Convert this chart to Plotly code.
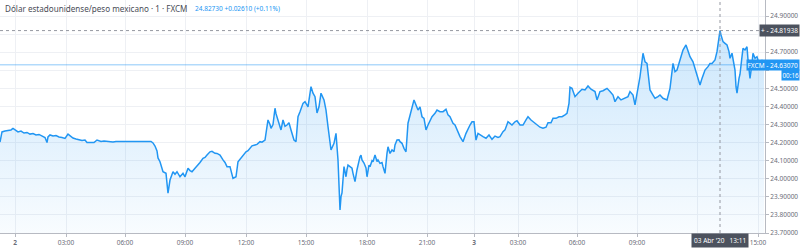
import plotly.graph_objects as go

# ---- data (bar index along the time scale, price) ----
bars = [
    0, 1, 2, 5, 8, 11, 13, 15, 18, 21,
    24, 27, 30, 33, 36, 39, 42, 45, 47, 48,
    50, 53, 56, 59, 62, 65, 68, 70, 73, 76,
    79, 82, 85, 87, 90, 94, 97, 99, 101, 104,
    107, 110, 113, 116, 120, 124, 128, 132, 136, 140,
    144, 148, 151, 153, 155, 157, 158, 160, 163, 166,
    168, 170, 173, 175, 177, 180, 183, 185, 188, 190,
    192, 195, 198, 200, 203, 205, 207, 210, 212, 215,
    217, 220, 223, 225, 227, 230, 233, 236, 238, 242,
    244, 246, 248, 250, 252, 255, 257, 260, 262, 265,
    268, 270, 271, 273, 275, 276, 278, 281, 283, 285,
    287, 289, 291, 294, 296, 298, 300, 303, 305, 308,
    311, 313, 315, 317, 319, 321, 324, 326, 328, 331,
    334, 336, 338, 339, 340, 341, 342, 344, 345, 346,
    347, 348, 350, 352, 353, 355, 357, 358, 360, 361,
    362, 364, 366, 367, 369, 370, 372, 373, 375, 377,
    378, 380, 382, 383, 385, 387, 388, 390, 392, 394,
    395, 397, 399, 400, 402, 404, 406, 408, 411, 413,
    414, 416, 418, 420, 422, 424, 426, 428, 430, 432,
    435, 437, 440, 443, 446, 448, 450, 453, 455, 457,
    460, 463, 466, 470, 472, 474, 476, 478, 480, 483,
    486, 489, 492, 495, 498, 500, 503, 505, 508, 510,
    512, 515, 517, 520, 523, 526, 528, 531, 535, 538,
    540, 543, 546, 548, 551, 553, 556, 559, 562, 565,
    567, 569, 570, 572, 575, 578, 582, 585, 588, 591,
    595, 597, 600, 603, 607, 610, 613, 615, 618, 621,
    625, 628, 630, 633, 635, 637, 640, 643, 645, 647,
    649, 650, 653, 655, 658, 660, 663, 667, 670, 672,
    673, 675, 677, 680, 683, 686, 688, 690, 693, 695,
    698, 700, 702, 705, 708, 710, 712, 715, 717, 719,
    720, 721, 723, 725, 727, 729, 730, 732, 734, 735,
    736, 737, 739, 740, 742, 743, 745, 747, 748, 750,
    752, 753, 755, 757, 759, 760, 762, 764,
]

prices = [
    24.203, 24.242, 24.259, 24.264, 24.267, 24.270, 24.278, 24.270, 24.259, 24.264,
    24.253, 24.256, 24.247, 24.250, 24.242, 24.245, 24.236, 24.228, 24.200, 24.231,
    24.242, 24.236, 24.239, 24.231, 24.228, 24.223, 24.247, 24.236, 24.225, 24.220,
    24.217, 24.212, 24.214, 24.200, 24.200, 24.200, 24.214, 24.212, 24.206, 24.209,
    24.206, 24.203, 24.203, 24.206, 24.206, 24.209, 24.206, 24.206, 24.209, 24.206,
    24.209, 24.209, 24.206, 24.198, 24.181, 24.154, 24.115, 24.094, 24.039, 24.030,
    23.920, 23.993, 24.039, 24.025, 24.039, 24.011, 24.030, 24.011, 24.058, 24.045,
    24.039, 24.058, 24.076, 24.090, 24.113, 24.118, 24.131, 24.149, 24.152, 24.141,
    24.140, 24.131, 24.104, 24.090, 24.067, 24.067, 24.002, 24.011, 24.094, 24.122,
    24.140, 24.149, 24.155, 24.168, 24.182, 24.187, 24.190, 24.205, 24.202, 24.214,
    24.325, 24.300, 24.279, 24.300, 24.390, 24.360, 24.325, 24.270, 24.325, 24.290,
    24.297, 24.310, 24.270, 24.214, 24.205, 24.343, 24.371, 24.417, 24.426, 24.398,
    24.509, 24.473, 24.454, 24.364, 24.398, 24.473, 24.436, 24.380, 24.288, 24.159,
    24.196, 24.251, 24.104, 23.922, 23.827, 23.901, 23.922, 24.067, 24.040, 24.011,
    24.050, 24.076, 24.067, 24.058, 24.030, 23.984, 24.050, 24.076, 24.122, 24.130,
    24.104, 24.087, 24.060, 24.011, 24.075, 24.067, 24.100, 24.094, 24.131, 24.095,
    24.104, 24.085, 24.090, 24.067, 24.030, 24.140, 24.177, 24.140, 24.159, 24.150,
    24.187, 24.214, 24.215, 24.205, 24.196, 24.168, 24.149, 24.307, 24.371, 24.417,
    24.436, 24.408, 24.380, 24.398, 24.343, 24.334, 24.270, 24.297, 24.325, 24.343,
    24.362, 24.380, 24.371, 24.371, 24.384, 24.353, 24.343, 24.307, 24.297, 24.270,
    24.233, 24.205, 24.251, 24.297, 24.315, 24.315, 24.214, 24.251, 24.242, 24.233,
    24.224, 24.242, 24.218, 24.236, 24.229, 24.233, 24.260, 24.270, 24.315, 24.307,
    24.297, 24.315, 24.321, 24.297, 24.297, 24.325, 24.343, 24.325, 24.307, 24.292,
    24.285, 24.279, 24.285, 24.310, 24.310, 24.334, 24.334, 24.343, 24.343, 24.353,
    24.362, 24.417, 24.506, 24.500, 24.454, 24.473, 24.495, 24.491, 24.513, 24.495,
    24.482, 24.436, 24.482, 24.487, 24.500, 24.482, 24.463, 24.426, 24.454, 24.436,
    24.445, 24.454, 24.482, 24.463, 24.408, 24.463, 24.564, 24.694, 24.647, 24.638,
    24.546, 24.491, 24.463, 24.445, 24.454, 24.463, 24.445, 24.436, 24.500, 24.601,
    24.638, 24.592, 24.601, 24.657, 24.712, 24.740, 24.703, 24.675, 24.647, 24.611,
    24.564, 24.518, 24.555, 24.601, 24.620, 24.638, 24.638, 24.657, 24.703, 24.777,
    24.81938, 24.795, 24.758, 24.749, 24.740, 24.703, 24.666, 24.694, 24.629, 24.601,
    24.509, 24.473, 24.555, 24.578, 24.675, 24.721, 24.712, 24.730, 24.657, 24.555,
    24.638, 24.694, 24.666, 24.675, 24.638, 24.620, 24.657, 24.6307,
]

tick_bars = [15, 66, 125, 185, 246, 306, 367, 427, 474, 518, 577, 637, 697, 758]
tick_labels = ["<b>2</b>", "03:00", "06:00", "09:00", "12:00", "15:00", "18:00", "21:00",
               "<b>3</b>", "03:00", "06:00", "09:00", "", "15:00"]
price_ticks = [23.7, 23.8, 23.9, 24.0, 24.1, 24.2, 24.3, 24.4, 24.5, 24.6, 24.7, 24.8, 24.9]
price_tick_labels = ["23.70000", "23.80000", "23.90000", "24.00000", "24.10000", "24.20000",
                     "24.30000", "24.40000", "24.50000", "", "24.70000", "", "24.90000"]

last_price = 24.6307
cross_price = 24.81938
cross_bar = 720
title_text = "Dólar estadounidense/peso mexicano · 1 · FXCM"
quote_text = "24.82730 +0.02610 (+0.11%)"
cross_time = "03 Abr '20&nbsp;&nbsp;&nbsp;13:11"
countdown = "00:16"

assert len(bars) == len(prices)

# ---- layout geometry ----
W, H = 800, 251
ML, MR, MT, MB = 0, 35, 0, 18
PW, PH = W - ML - MR, H - MT - MB
Y_MIN, Y_MAX = 23.70, 24.9885


def px_x(px):
    return (px - ML) / PW


def px_y(py):
    return (H - MB - py) / PH


BLUE = "#2196f3"
GRID = "#eef0f4"
AXIS = "#b7bac2"
TXT = "#6a6d78"
FONT = "Noto Sans"

fig = go.Figure()
fig.add_trace(go.Scatter(
    x=bars, y=prices, mode="lines",
    line=dict(color=BLUE, width=1.5),
    fill="tozeroy",
    fillgradient=dict(type="vertical",
                      colorscale=[[0, "rgba(33,150,243,0.03)"], [1, "rgba(33,150,243,0.24)"]],
                      start=Y_MIN, stop=24.85),
    hoverinfo="skip", showlegend=False,
))

shapes = [
    dict(type="line", xref="paper", x0=0, x1=1, yref="y", y0=last_price, y1=last_price,
         line=dict(color="rgba(33,150,243,0.35)", width=1.5)),
    dict(type="line", xref="paper", x0=0, x1=1, yref="y", y0=cross_price, y1=cross_price,
         line=dict(color="#9598a1", width=1, dash="3px,3px")),
    dict(type="line", xref="x", x0=cross_bar, x1=cross_bar, yref="paper", y0=0, y1=1,
         line=dict(color="#9598a1", width=1, dash="3px,3px")),
]

annotations = [
    dict(text=title_text, xref="paper", yref="paper", x=px_x(3), y=px_y(8),
         xanchor="left", yanchor="middle", showarrow=False,
         font=dict(family=FONT, size=8.1, color="#4a4d57")),
    dict(text=quote_text, xref="paper", yref="paper", x=px_x(193), y=px_y(8),
         xanchor="left", yanchor="middle", showarrow=False,
         font=dict(family=FONT, size=6.5, color=BLUE)),
    dict(text="+ ‐ " + f"{cross_price:.5f}", xref="paper", yref="y", x=px_x(800), y=cross_price,
         xanchor="right", yanchor="middle", showarrow=False, bgcolor="#4c525e", borderpad=1,
         font=dict(family=FONT, size=6.5, color="white")),
    dict(text="FXCM ‐ " + f"{last_price:.5f}", xref="paper", yref="y", x=px_x(800), y=last_price,
         xanchor="right", yanchor="middle", showarrow=False, bgcolor=BLUE, borderpad=0.5,
         font=dict(family=FONT, size=6.5, color="white")),
    dict(text=countdown, xref="paper", yref="paper", x=px_x(800), y=px_y(75),
         xanchor="right", yanchor="middle", showarrow=False, bgcolor=BLUE, borderpad=0.5,
         font=dict(family=FONT, size=6.3, color="white")),
    dict(text=cross_time, xref="x", yref="paper", x=cross_bar, y=px_y(240.5),
         xanchor="center", yanchor="middle", showarrow=False, bgcolor="#4c525e", borderpad=2,
         font=dict(family=FONT, size=6.5, color="white")),
]

fig.update_layout(
    width=W, height=H,
    margin=dict(l=ML, r=MR, t=MT, b=MB, pad=0),
    paper_bgcolor="white", plot_bgcolor="white",
    font=dict(family=FONT, size=7, color=TXT),
    shapes=shapes, annotations=annotations,
    hovermode=False, showlegend=False,
    xaxis=dict(range=[0, PW], tickvals=tick_bars, ticktext=tick_labels,
               showgrid=True, gridcolor=GRID, gridwidth=1, zeroline=False,
               showline=True, linecolor=AXIS, linewidth=1,
               ticks="outside", ticklen=3, tickcolor=AXIS,
               tickfont=dict(family=FONT, size=6.5, color=TXT), fixedrange=True),
    yaxis=dict(range=[Y_MIN, Y_MAX], side="right", tickvals=price_ticks, ticktext=price_tick_labels,
               showgrid=True, gridcolor=GRID, gridwidth=1, zeroline=False,
               showline=True, linecolor=AXIS, linewidth=1,
               ticks="outside", ticklen=3, tickcolor=AXIS,
               tickfont=dict(family=FONT, size=6.5, color=TXT), fixedrange=True),
)

fig.write_html("out.html", config={"displayModeBar": False, "staticPlot": True})
